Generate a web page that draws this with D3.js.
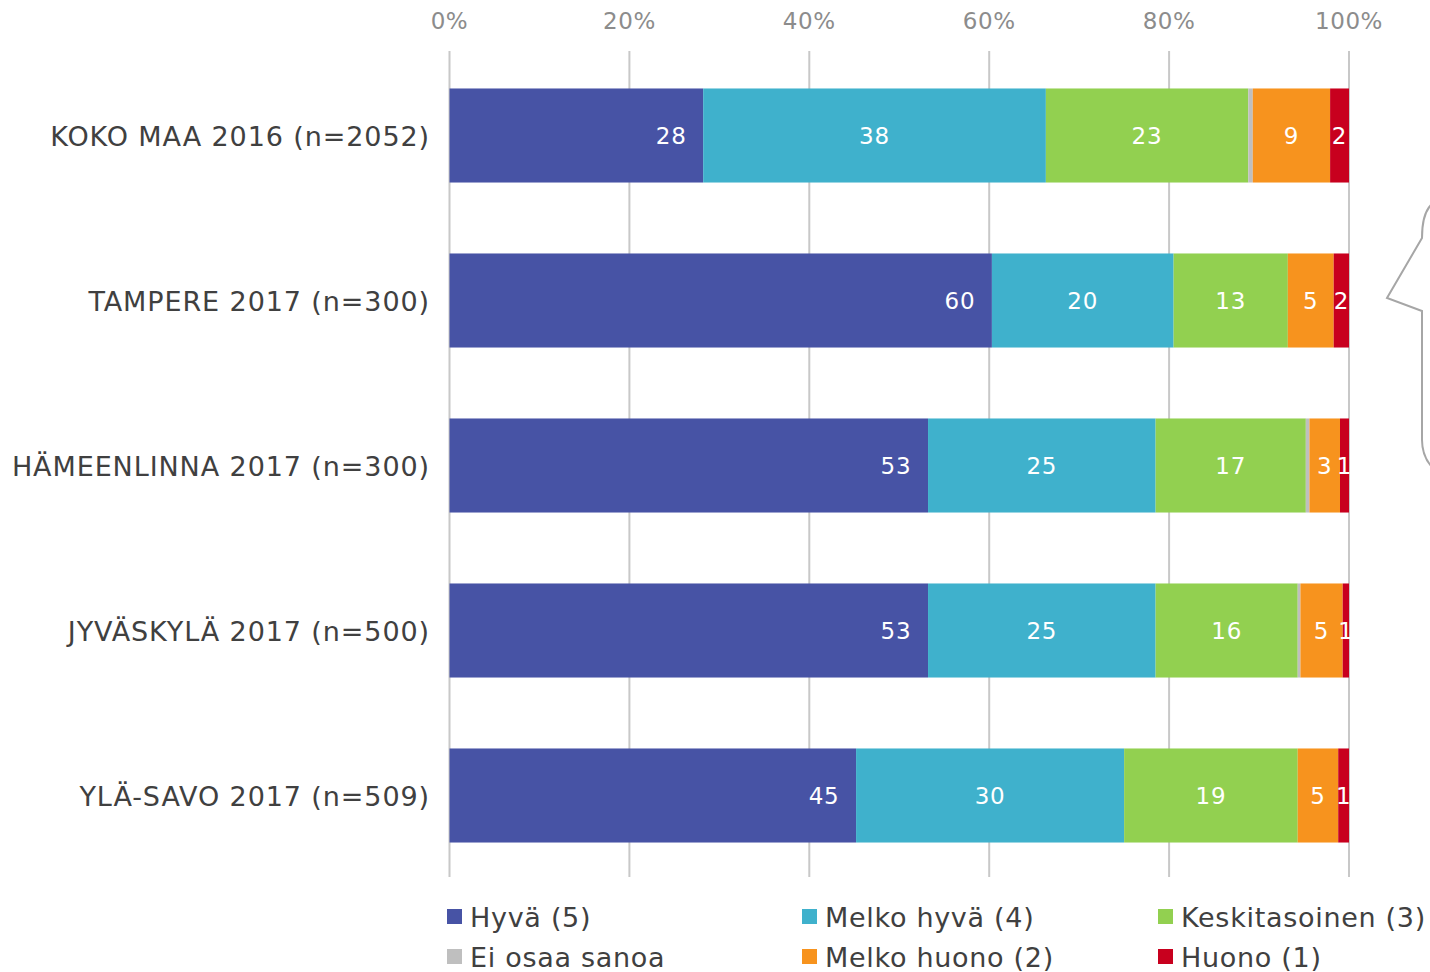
<!doctype html>
<html lang="fi">

<head>
  <meta charset="utf-8">
  <title>Arvio</title>
  <style>
    body { margin: 0; background: #fff; }
    svg { display: block; font-family: "DejaVu Sans", Verdana, sans-serif; }
  </style>
</head>

<body>
  <div id="chart"></div>

  <script src="https://cdn.jsdelivr.net/npm/d3@7/dist/d3.min.js"></script>
  <script>
    // Data ----------------------------------------------------------------------
    const categories = [
      "KOKO MAA 2016 (n=2052)",
      "TAMPERE 2017 (n=300)",
      "HÄMEENLINNA 2017 (n=300)",
      "JYVÄSKYLÄ 2017 (n=500)",
      "YLÄ-SAVO 2017 (n=509)"
    ];
    const seriesNames = ["Hyvä (5)", "Melko hyvä (4)", "Keskitasoinen (3)", "Ei osaa sanoa", "Melko huono (2)", "Huono (1)"];
    const hyva = [28.2, 60.3, 53.2, 53.2, 45.2];
    const melkoHyva = [38.1, 20.2, 25.3, 25.3, 29.8];
    const keskitasoinen = [22.5, 12.7, 16.7, 15.8, 19.3];
    const eiOsaa = [0.5, 0, 0.4, 0.3, 0];
    const melkoHuono = [8.6, 5.1, 3.4, 4.7, 4.5];
    const huono = [2.1, 1.7, 1.0, 0.7, 1.2];
    const tickValues = [0, 20, 40, 60, 80, 100];
    const colors = ["#4753a5", "#3fb1cc", "#92d050", "#bfbfbf", "#f7931e", "#c8001e"];

    // Layout --------------------------------------------------------------------
    const width = 1430;
    const height = 972;

    const svg = d3.select("#chart")
      .append("svg")
      .attr("width", width)
      .attr("height", height);

    const x = d3.scaleLinear().domain([0, 100]).range([449.5, 1349]);
    const y = d3.scaleBand().domain(categories).range([53, 878]).paddingInner(0.43).paddingOuter(0.215);

    const table = categories.map((c, i) => ({
      cat: c,
      values: [hyva[i], melkoHyva[i], keskitasoinen[i], eiOsaa[i], melkoHuono[i], huono[i]]
    }));

    // Gridlines + ticks ---------------------------------------------------------
    svg.append("g")
      .selectAll("line")
      .data(tickValues)
      .join("line")
      .attr("x1", d => x(d))
      .attr("x2", d => x(d))
      .attr("y1", 51)
      .attr("y2", 877)
      .attr("stroke", "#c8c8c8")
      .attr("stroke-width", 2);

    svg.append("g")
      .selectAll("text")
      .data(tickValues)
      .join("text")
      .attr("x", d => x(d))
      .attr("y", 29)
      .attr("text-anchor", "middle")
      .attr("font-size", 23)
      .attr("letter-spacing", 0.6)
      .attr("fill", "#8c8c8c")
      .text(d => d + "%");

    // Bars ----------------------------------------------------------------------
    const rows = svg.append("g")
      .selectAll("g")
      .data(table)
      .join("g")
      .attr("transform", d => `translate(0,${y(d.cat)})`);

    rows.each(function(row) {
      let acc = 0;
      const segs = row.values.map((v, k) => {
        const s = { k: k, v: v, x0: acc, x1: acc + v };
        acc += v;
        return s;
      });
      const g = d3.select(this);
      g.selectAll("rect")
        .data(segs.filter(s => s.v > 0))
        .join("rect")
        .attr("x", s => x(s.x0))
        .attr("width", s => x(s.x1) - x(s.x0))
        .attr("y", 0)
        .attr("height", y.bandwidth())
        .attr("fill", s => colors[s.k]);

      g.selectAll("text")
        .data(segs.filter(s => s.v > 0 && s.k !== 3))
        .join("text")
        .attr("x", s => s.k === 0 ? x(s.x1) - 32 : (x(s.x0) + x(s.x1)) / 2)
        .attr("y", y.bandwidth() / 2 + 9)
        .attr("text-anchor", "middle")
        .attr("font-size", 23)
        .attr("letter-spacing", 0.8)
        .attr("fill", "#ffffff")
        .text(s => Math.round(s.v));
    });

    // Category labels -----------------------------------------------------------
    svg.append("g")
      .selectAll("text")
      .data(categories)
      .join("text")
      .attr("x", 430)
      .attr("y", d => y(d) + y.bandwidth() / 2 + 10)
      .attr("text-anchor", "end")
      .attr("font-size", 27)
      .attr("letter-spacing", 0.9)
      .attr("fill", "#404040")
      .text(d => d);

    // Brace on the right --------------------------------------------------------
    svg.append("path")
      .attr("d", "M1431,205 C1424,212 1422,225 1422,238 L1387,298 L1422,311 L1422,440 C1422,452 1426,460 1431,466")
      .attr("fill", "none")
      .attr("stroke", "#a6a6a6")
      .attr("stroke-width", 2);

    // Legend --------------------------------------------------------------------
    const legendX = [447, 802, 1158];
    const legendY = [917, 957];
    const legend = svg.append("g")
      .selectAll("g")
      .data(seriesNames)
      .join("g")
      .attr("transform", (d, i) => `translate(${legendX[i % 3]},${legendY[Math.floor(i / 3)]})`);

    legend.append("rect")
      .attr("x", 0)
      .attr("y", -8)
      .attr("width", 15)
      .attr("height", 15)
      .attr("fill", (d, i) => colors[i]);

    legend.append("text")
      .attr("x", 23)
      .attr("y", 10)
      .attr("font-size", 27)
      .attr("letter-spacing", 0.7)
      .attr("fill", "#404040")
      .text(d => d);
  </script>
</body>

</html>
